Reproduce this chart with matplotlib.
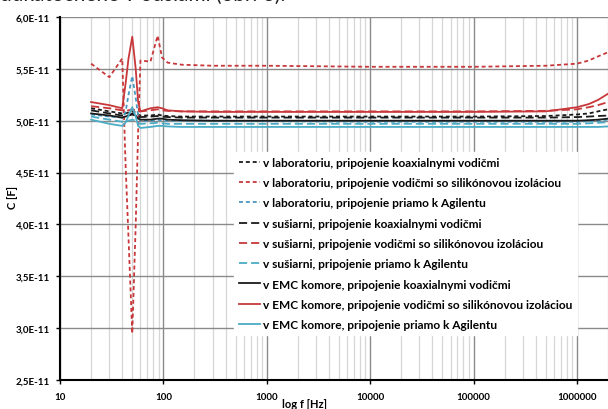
import numpy as np
import matplotlib
matplotlib.use("Agg")
import matplotlib.pyplot as plt
from matplotlib.ticker import FixedLocator, FuncFormatter, NullFormatter

plt.rcParams["font.family"] = ["Lato", "DejaVu Sans"]

# frequency points [Hz]
freq = [20, 30, 40, 43, 46, 50, 54, 57, 60, 75, 88, 97, 110, 150, 300, 1000,
        10000, 100000, 500000, 1000000, 1300000, 1600000, 2000000]

# capacitance in units of 1E-11 F
lab_koax = [5.12, 5.09, 5.07, 5.07, 5.08, 5.09, 5.08, 5.06, 5.05, 5.05, 5.06, 5.05,
            5.045, 5.04, 5.04, 5.04, 5.04, 5.04, 5.045, 5.06, 5.07, 5.09, 5.11]
lab_silikon = [5.55, 5.42, 5.60, 4.60, 3.87, 2.95, 4.00, 4.90, 5.58, 5.57, 5.82, 5.61,
               5.56, 5.54, 5.53, 5.53, 5.52, 5.52, 5.53, 5.55, 5.58, 5.62, 5.66]
lab_priamo = [5.06, 5.04, 5.03, 5.08, 5.25, 5.43, 5.22, 5.05, 5.00, 5.00, 5.01, 5.00,
              5.00, 5.00, 5.00, 4.995, 4.99, 4.99, 4.99, 4.99, 4.995, 5.00, 5.01]
sus_koax = [5.10, 5.07, 5.05, 5.05, 5.05, 5.06, 5.05, 5.04, 5.035, 5.04, 5.045, 5.04,
            5.035, 5.03, 5.03, 5.03, 5.03, 5.03, 5.03, 5.035, 5.04, 5.045, 5.05]
sus_silikon = [5.14, 5.12, 5.10, 5.10, 5.10, 5.11, 5.10, 5.09, 5.09, 5.10, 5.11, 5.10,
               5.095, 5.09, 5.09, 5.09, 5.09, 5.09, 5.095, 5.11, 5.13, 5.15, 5.18]
sus_priamo = [5.04, 5.01, 4.99, 4.99, 5.00, 5.01, 5.00, 4.98, 4.97, 4.975, 4.98, 4.975,
              4.97, 4.97, 4.97, 4.97, 4.97, 4.97, 4.97, 4.97, 4.975, 4.98, 4.985]
emc_koax = [5.07, 5.05, 5.03, 5.04, 5.05, 5.07, 5.05, 5.02, 5.01, 5.01, 5.02, 5.02,
            5.01, 5.005, 5.00, 5.00, 5.00, 5.00, 5.00, 5.00, 5.005, 5.01, 5.02]
emc_silikon = [5.18, 5.15, 5.12, 5.35, 5.60, 5.81, 5.50, 5.18, 5.09, 5.12, 5.13, 5.12,
               5.10, 5.09, 5.085, 5.085, 5.085, 5.085, 5.09, 5.13, 5.16, 5.20, 5.26]
emc_priamo = [5.01, 4.97, 4.95, 4.98, 5.05, 5.13, 5.04, 4.95, 4.93, 4.94, 4.95, 4.95,
              4.945, 4.94, 4.94, 4.94, 4.94, 4.94, 4.94, 4.94, 4.94, 4.94, 4.945]

labels = [
    "v laboratoriu, pripojenie koaxialnymi vodičmi",
    "v laboratoriu, pripojenie vodičmi so silikónovou izoláciou",
    "v laboratoriu, pripojenie priamo k Agilentu",
    "v sušiarni, pripojenie koaxialnymi vodičmi",
    "v sušiarni, pripojenie vodičmi so silikónovou izoláciou",
    "v sušiarni, pripojenie priamo k Agilentu",
    "v EMC komore, pripojenie koaxialnymi vodičmi",
    "v EMC komore, pripojenie vodičmi so silikónovou izoláciou",
    "v EMC komore, pripojenie priamo k Agilentu",
]
series = [lab_koax, lab_silikon, lab_priamo, sus_koax, sus_silikon, sus_priamo,
          emc_koax, emc_silikon, emc_priamo]

black, red, blue = "#1a1a1a", "#c8383a", "#4bacc6"
colors = [black, red, "#4a98c0", black, red, blue, black, red, blue]
short, long_ = (0, (2.2, 1.6)), (0, (4.5, 2.2))
styles = [short, short, short, long_, long_, long_, "-", "-", "-"]

fig = plt.figure(figsize=(6.08, 4.10), dpi=100)
ax = fig.add_axes([60 / 608, 29 / 410, 548 / 608, 363 / 410])

f = np.array(freq)
for vals, lab, col, ls in zip(series, labels, colors, styles):
    ax.plot(f, np.array(vals) * 1e-11, color=col, linestyle=ls, lw=1.3, label=lab)

ax.set_xscale("log")
ax.set_xlim(10, 2e6)
ax.set_ylim(2.5e-11, 6.0e-11)

yt = [2.5e-11, 3.0e-11, 3.5e-11, 4.0e-11, 4.5e-11, 5.0e-11, 5.5e-11, 6.0e-11]
ax.yaxis.set_major_locator(FixedLocator(yt))
ax.yaxis.set_major_formatter(FuncFormatter(lambda v, p: f"{v * 1e11:.1f}".replace(".", ",") + "E-11"))
ax.xaxis.set_major_formatter(FuncFormatter(lambda v, p: f"{int(round(v))}"))
ax.xaxis.set_minor_formatter(NullFormatter())

ax.grid(True, which="major", axis="both", color="#8a8a8a", lw=1.0)
ax.grid(True, which="minor", axis="x", color="#d6d6d6", lw=0.9)
ax.set_axisbelow(True)

for s in ["top", "right"]:
    ax.spines[s].set_visible(False)
for s in ["left", "bottom"]:
    ax.spines[s].set_linewidth(1.5)
    ax.spines[s].set_color("black")

ax.tick_params(axis="both", which="major", length=3, width=1, labelsize=7, pad=4)
ax.tick_params(axis="x", which="minor", length=0)
for t in ax.get_xticklabels() + ax.get_yticklabels():
    t.set_fontweight("bold")
ax.tick_params(axis="x", pad=6)

ax.set_ylabel("C [F]", fontsize=8, fontweight="bold")
ax.yaxis.set_label_coords(-42 / 548, 0.505)
ax.set_xlabel("log f [Hz]", fontsize=8, fontweight="bold")
ax.xaxis.set_label_coords(0.447, -18 / 363)

leg = ax.legend(loc="upper left", bbox_to_anchor=((234 - 60) / 548, (381 - 153) / 363),
                borderaxespad=0, frameon=True, fancybox=False, framealpha=1,
                facecolor="white", edgecolor="white",
                handlelength=1.8, handletextpad=0.2, labelspacing=0.78,
                prop={"weight": "bold", "size": 8.6})

fig.text(0.0, 1.012, "dukatočnené v odsiami (obr. 6).", fontsize=15,
         ha="left", va="center", color="#222222")

fig.savefig("out.png", dpi=100)
